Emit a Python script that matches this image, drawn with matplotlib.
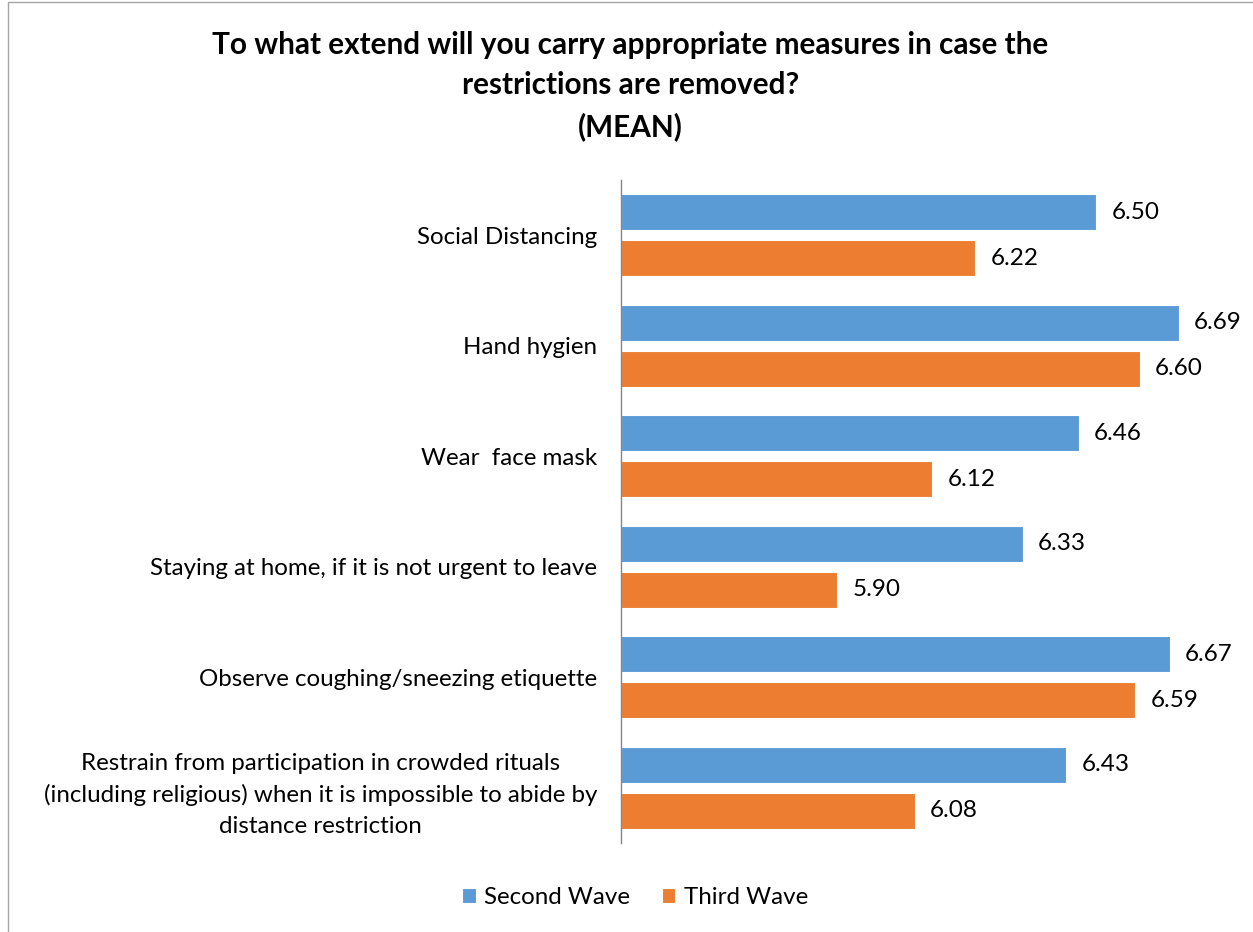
import numpy as np
import matplotlib.pyplot as plt
from matplotlib.patches import Rectangle

plt.rcParams["font.family"] = ["Lato", "DejaVu Sans"]

categories = [
    "Social Distancing",
    "Hand hygien",
    "Wear  face mask",
    "Staying at home, if it is not urgent to leave",
    "Observe coughing/sneezing etiquette",
    "Restrain from participation in crowded rituals\n(including religious) when it is impossible to abide by\ndistance restriction",
]
second_wave = [6.50, 6.69, 6.46, 6.33, 6.67, 6.43]
third_wave = [6.22, 6.60, 6.12, 5.90, 6.59, 6.08]

BLUE = "#5B9BD5"
ORANGE = "#ED7D31"

fig = plt.figure(figsize=(12.53, 9.32), dpi=100)
ax = fig.add_axes([0.4956, 0.0955, 0.4829, 0.7114])

y = np.arange(len(categories))
h = 0.326
off = 0.208
xmin = 5.4

ax.barh(y - off, np.array(second_wave) - xmin, left=xmin, height=h,
        color=BLUE, edgecolor="white", linewidth=0.8, label="Second Wave")
ax.barh(y + off, np.array(third_wave) - xmin, left=xmin, height=h,
        color=ORANGE, edgecolor="white", linewidth=0.8, label="Third Wave")

for yi, v in zip(y, second_wave):
    ax.text(v + 0.035, yi - off, f"{v:.2f}", va="center", ha="left", fontsize=17.5)
for yi, v in zip(y, third_wave):
    ax.text(v + 0.035, yi + off, f"{v:.2f}", va="center", ha="left", fontsize=17.5)

ax.set_xlim(xmin, 6.8)
ax.set_ylim(len(categories) - 0.5, -0.5)
ax.set_yticks(y)
ax.set_yticklabels(categories, fontsize=17.4)
for lbl in ax.get_yticklabels():
    lbl.set_multialignment("center")
    lbl.set_linespacing(1.57)
ax.tick_params(axis="y", length=0, pad=17)
ax.set_xticks([])

for side in ["top", "right", "bottom"]:
    ax.spines[side].set_visible(False)
ax.spines["left"].set_color("#868686")
ax.spines["left"].set_linewidth(1)

fig.text(0.503, 0.952, "To what extend will you carry appropriate measures in case the",
         ha="center", va="center", fontsize=21.4, fontweight="bold")
fig.text(0.503, 0.909, "restrictions are removed?",
         ha="center", va="center", fontsize=21.4, fontweight="bold")
fig.text(0.503, 0.864, "(MEAN)",
         ha="center", va="center", fontsize=21.4, fontweight="bold")

fig.legend(loc="center", bbox_to_anchor=(0.507, 0.037), ncol=2, frameon=False,
           fontsize=17.4, handlelength=0.55, handleheight=0.55, handletextpad=0.35,
           columnspacing=1.32)

fig.patches.append(Rectangle((8 / 1253, -0.01), 1.02, 1.01 - 1.5 / 932,
                             transform=fig.transFigure, fill=False,
                             edgecolor="#A6A6A6", linewidth=1))

fig.savefig("out.png", dpi=100)
